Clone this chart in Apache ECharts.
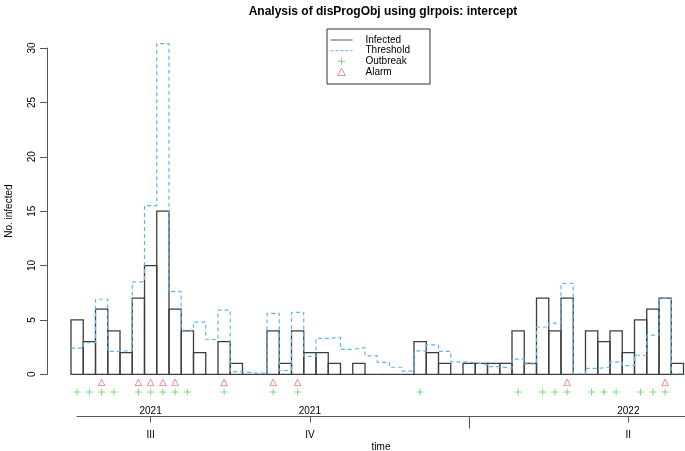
<!DOCTYPE html>
<html><head><meta charset="utf-8">
<script src="https://cdn.jsdelivr.net/npm/echarts@6/dist/echarts.min.js"></script>
<style>html,body{margin:0;padding:0;background:#fff}#c{width:685px;height:451px}</style>
</head><body><div id="c"></div>
<script>
// ---- data ----
const infected = [5,3,6,4,2,7,10,15,6,4,2,0,3,
  1,0,0,4,1,4,2,2,1,0,1,0,0,0,0,
  3,2,1,0,1,1,1,1,4,1,7,4,7,
  0,4,3,4,2,5,6,7,1];
const threshold = [2.4,2.9,6.9,2.1,2.2,8.5,15.5,30.4,7.6,4.05,4.8,3.2,5.9,
  0.25,0.1,0.1,5.6,0.35,5.7,1.65,3.3,3.4,2.3,2.45,1.7,1.1,0.65,0.3,
  2.15,2.7,2.1,1.15,1.05,0.9,0.7,0.55,1.4,0.95,4.35,4.7,8.35,
  0.05,0.55,0.65,1.15,0.8,1.75,3.6,7.0,0.05];
const outbreakWeeks = [0,1,2,3,5,6,7,8,9,12,16,18,28,36,38,39,40,42,43,44,46,47,48];
const alarmWeeks = [2,5,6,7,8,12,16,18,40,48];
const quarterTicks = [6.5, 19.5, 45.5];
const quarterLabels = ['III','IV','II'];
const yearLabels = ['2021','2021','2022'];
const yearBoundaryTicks = [32.5];

// ---- styling constants ----
const FONT = '"Liberation Sans", Arial, Helvetica, sans-serif';
const BAR_COL = '#3d3d3d';
const THR_COL = '#5db6ee';
const OUT_COL = '#62d262';
const ALM_COL = '#ee6a84';
const ALARM_ROW = -0.74, OUTBREAK_ROW = -1.63;
const nWeeks = infected.length;
const pxPerWeek = (683.5 - 71) / nWeeks;
const plotXMin = -(71 - 47) / pxPerWeek;   // y axis sits left of first bar
const timeMax = 0.5 + (685 - 77.1) / pxPerWeek;

const thrLine = [];
threshold.forEach((t, i) => { thrLine.push([i, t]); thrLine.push([i + 1, t]); });

const chart = echarts.init(document.getElementById('c'), null, {renderer: 'canvas'});
chart.setOption({
  animation: false,
  backgroundColor: '#fff',
  textStyle: {fontFamily: FONT},
  title: {
    text: 'Analysis of disProgObj using glrpois: intercept',
    left: 378, top: 1, textAlign: 'center',
    textStyle: {fontSize: 12, fontWeight: 'bold', color: '#000', fontFamily: FONT}
  },
  legend: {
    orient: 'vertical', left: 327, top: 29,
    padding: [6, 20, 7, 3], itemGap: 0.67, itemWidth: 22, itemHeight: 7,
    borderColor: '#333', borderWidth: 1,
    textStyle: {fontSize: 10, color: '#000', fontFamily: FONT, padding: [0, 0, 0, 8]},
    data: [
      {name: 'Infected', icon: 'path://M0,0H22V1H0Z', itemStyle: {color: '#555', borderWidth: 0}},
      {name: 'Threshold', lineStyle: {width: 1, type: [3, 2], color: THR_COL},
        itemStyle: {color: 'rgba(0,0,0,0)', borderColor: 'rgba(0,0,0,0)', opacity: 0}},
      {name: 'Outbreak', itemStyle: {color: 'rgba(0,0,0,0)', borderColor: OUT_COL, borderWidth: 1}},
      {name: 'Alarm', icon: 'path://M5,0L10,9L0,9Z',
        itemStyle: {color: 'rgba(0,0,0,0)', borderColor: ALM_COL, borderWidth: 1}}
    ]
  },
  grid: [
    {left: 47, right: 1.5, top: 48, height: 326.3, outerBoundsMode: 'none', containLabel: false},
    {left: 77.1, right: 0, bottom: 34.5, height: 1, outerBoundsMode: 'none', containLabel: false}
  ],
  xAxis: [
    {gridIndex: 0, type: 'value', min: plotXMin, max: nWeeks, show: false},
    {gridIndex: 1, type: 'value', min: 0.5, max: timeMax,
      position: 'bottom',
      axisLine: {show: true, onZero: false, lineStyle: {color: '#555', width: 1}},
      axisTick: {show: true, length: 6, customValues: quarterTicks, lineStyle: {color: '#555'}},
      axisLabel: {show: true, margin: 13.5, customValues: quarterTicks, fontSize: 10, color: '#000',
        formatter: v => quarterLabels[quarterTicks.indexOf(v)]},
      splitLine: {show: false},
      name: 'time', nameLocation: 'middle', nameGap: 26,
      nameTextStyle: {fontSize: 10, color: '#000'}
    },
    {gridIndex: 1, type: 'value', min: 0.5, max: timeMax,
      position: 'bottom',
      axisLine: {show: false, onZero: false},
      axisTick: {show: true, length: 12, customValues: yearBoundaryTicks, lineStyle: {color: '#555'}},
      axisLabel: {show: false}, splitLine: {show: false}
    },
    {gridIndex: 1, type: 'value', min: 0.5, max: timeMax,
      position: 'bottom',
      axisLine: {show: false, onZero: false}, axisTick: {show: false},
      axisLabel: {show: true, inside: true, margin: 0, customValues: quarterTicks, fontSize: 10, color: '#000',
        formatter: v => yearLabels[quarterTicks.indexOf(v)]},
      splitLine: {show: false}
    }
  ],
  yAxis: [
    {gridIndex: 0, type: 'value', min: 0, max: 30, interval: 5, position: 'left',
      axisLine: {show: true, onZero: false, lineStyle: {color: '#555'}},
      axisTick: {show: true, length: 7, lineStyle: {color: '#555'}},
      axisLabel: {rotate: 90, margin: 10, fontSize: 10, color: '#000'},
      splitLine: {show: false},
      name: 'No. infected', nameLocation: 'middle', nameGap: 33,
      nameTextStyle: {fontSize: 10, color: '#000'}
    },
    {gridIndex: 1, type: 'value', show: false}
  ],
  series: [
    {
      name: 'Infected', type: 'custom', xAxisIndex: 0, yAxisIndex: 0,
      data: infected.map((v, i) => [i, v]),
      clip: false,
      renderItem: function (params, api) {
        const i = api.value(0), v = api.value(1);
        const p0 = api.coord([i, 0]), p1 = api.coord([i + 1, v]);
        return {type: 'rect',
          shape: {x: p0[0], y: p1[1], width: p1[0] - p0[0], height: p0[1] - p1[1]},
          style: {fill: 'rgba(0,0,0,0)', stroke: BAR_COL, lineWidth: 1.3}};
      },
      itemStyle: {color: '#555'}
    },
    {
      name: 'Threshold', type: 'line', xAxisIndex: 0, yAxisIndex: 0, clip: false,
      data: thrLine, showSymbol: false, symbol: 'none',
      lineStyle: {color: THR_COL, width: 1.2, type: [4, 3]},
      itemStyle: {color: THR_COL}, z: 3
    },
    {
      name: 'Outbreak', type: 'scatter', xAxisIndex: 0, yAxisIndex: 0, clip: false,
      data: outbreakWeeks.map(i => [i + 0.5, OUTBREAK_ROW]),
      symbol: 'path://M0,5H10M5,0V10', symbolSize: 7,
      itemStyle: {color: 'rgba(0,0,0,0)', borderColor: OUT_COL, borderWidth: 1}
    },
    {
      name: 'Alarm', type: 'scatter', xAxisIndex: 0, yAxisIndex: 0, clip: false,
      data: alarmWeeks.map(i => [i + 0.5, ALARM_ROW]),
      symbol: 'triangle', symbolSize: 6.5,
      itemStyle: {color: 'rgba(0,0,0,0)', borderColor: ALM_COL, borderWidth: 1}
    }
  ]
});
</script></body></html>
